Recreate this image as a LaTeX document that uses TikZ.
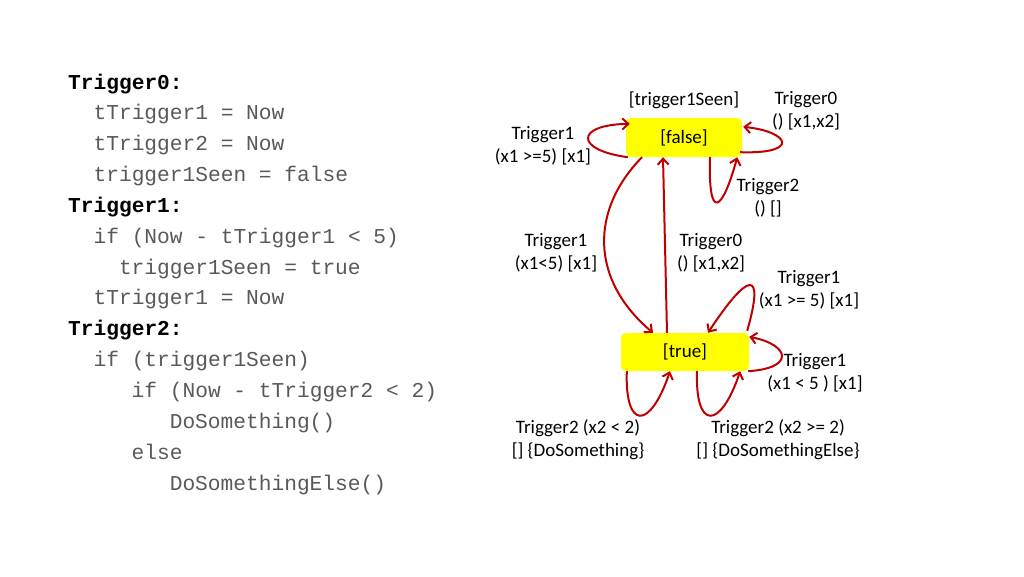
\documentclass[tikz,border=0pt]{standalone}
\usepackage{fontspec}
\setmainfont{Carlito}
\setmonofont{Liberation Mono}
\usetikzlibrary{arrows.meta}
\definecolor{arrowred}{HTML}{C00000}
\definecolor{stateyellow}{HTML}{FFFF00}
\tikzset{
  state/.style={fill=stateyellow, rounded corners=5pt, inner sep=0pt, font=\fontsize{19}{23}\selectfont},
  trans/.style={draw=arrowred, line width=2pt, -{Straight Barb[length=6pt,width=11pt]}},
  lbl/.style={align=center, inner sep=0pt, font=\fontsize{19}{23}\selectfont},
  code/.style={anchor=base west, inner sep=0pt, text=black!65, font=\ttfamily\fontsize{21.2}{30}\selectfont}
}
\begin{document}
\begin{tikzpicture}[x=1pt,y=-1pt]
\useasboundingbox (0,0) rectangle (1024,576);
%code
\foreach \ind/\txt [count=\i from 0] in {0/\textbf{\color{black}Trigger0:}, 2/tTrigger1 = Now, 2/tTrigger2 = Now,
  2/trigger1Seen = false, 0/\textbf{\color{black}Trigger1:}, 2/if (Now - tTrigger1 < 5), 4/trigger1Seen = true,
  2/tTrigger1 = Now, 0/\textbf{\color{black}Trigger2:}, 2/if (trigger1Seen), 5/if (Now - tTrigger2 < 2),
  8/DoSomething(), 5/else, 8/DoSomethingElse()}
  \node[code] (c\i) at (68+12.7*\ind, 89+30.85*\i) {\txt};
%states
\node[state, minimum width=116pt, minimum height=39pt] (F) at (684,137.5) {[false]};
\node[state, minimum width=128pt, minimum height=38pt] (T) at (685,352) {[true]};
%transitions
\draw[trans] ([xshift=2pt]F.south west) .. controls +(-53,-7) and +(-55,1) .. ([xshift=4pt,yshift=-6pt]F.north west);
\draw[trans] ([xshift=-2pt,yshift=5pt]F.south east) .. controls +(60,2) and +(47,5) .. ([xshift=1pt,yshift=-9pt]F.north east);
\draw[trans] ([xshift=26pt]F.south) .. controls +(-2,65) and +(-15,55) .. ([xshift=-5pt]F.south east);
\draw[trans] ([xshift=-42pt]F.south) .. controls +(-52,53) and +(-63,-53) .. ([xshift=-32pt]T.north);
\draw[trans] ([xshift=-18pt]T.north) -- ([xshift=-21pt]F.south);
\draw[trans] ([xshift=-2pt,yshift=2pt]T.north east) .. controls +(18,-63) and +(40,-61) .. ([xshift=23pt]T.north);
\draw[trans] ([xshift=-1pt]T.south east) .. controls +(47,-3) and +(41,8) .. ([yshift=-4pt]T.north east);
\draw[trans] ([xshift=6pt]T.south west) .. controls +(-2,59) and +(-20,59) .. ([xshift=-15pt]T.south);
\draw[trans] ([xshift=12pt]T.south) .. controls +(-2,59) and +(-20,59) .. ([xshift=-9pt]T.south east);
%labels
\node[lbl] (seen) at (684,100) {[trigger1Seen]};
\node[lbl] (lt0a) at (806,110.5) {Trigger0\\() [x1,x2]};
\node[lbl] (lt1a) at (543,145.5) {Trigger1\\(x1 >=5) [x1]};
\node[lbl] (lt2a) at (768,198) {Trigger2\\() []};
\node[lbl] (lt1b) at (556,252.5) {Trigger1\\(x1<5) [x1]};
\node[lbl] (lt0b) at (711,252.5) {Trigger0\\() [x1,x2]};
\node[lbl] (lt1c) at (809,289.5) {Trigger1\\(x1 >= 5) [x1]};
\node[lbl] (lt1d) at (815,372.5) {Trigger1\\(x1 < 5 ) [x1]};
\node[lbl] (lt2b) at (578,440) {Trigger2 (x2 < 2)\\{[]} \{DoSomething\}};
\node[lbl] (lt2c) at (778,440) {Trigger2 (x2 >= 2)\\{[]} \{DoSomethingElse\}};
\end{tikzpicture}
\end{document}
